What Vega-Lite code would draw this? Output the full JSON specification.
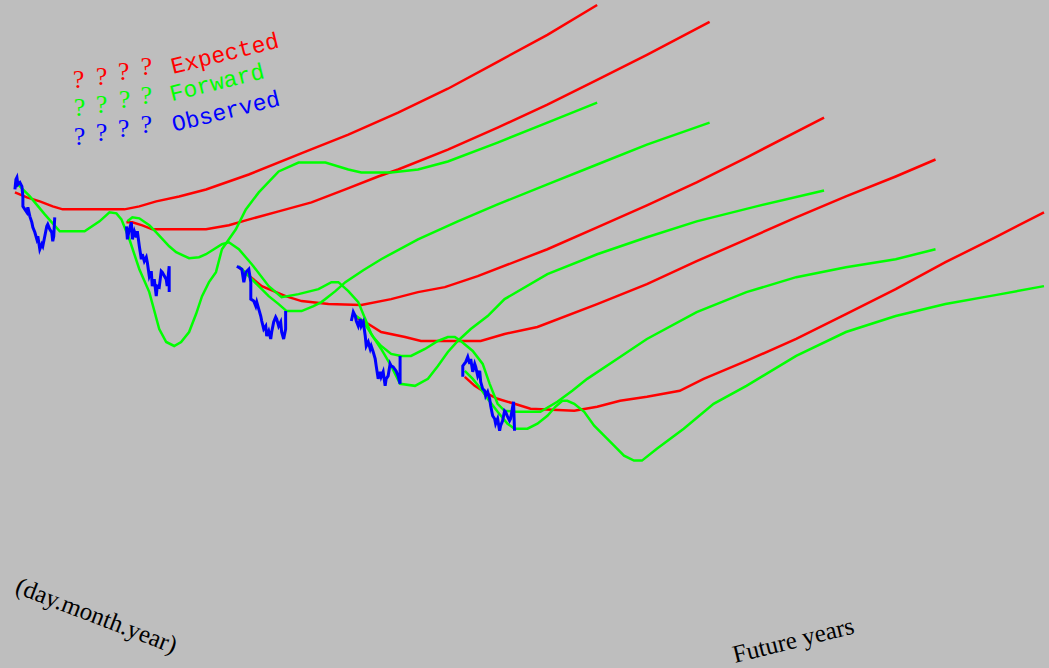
{
"$schema": "https://vega.github.io/schema/vega-lite/v6.json",
"width": 1049, "height": 668, "padding": 0,
"autosize": {"type": "fit", "contains": "padding"},
"background": "#bebebe",
"config": {"view": {"stroke": null}},
"datasets": {
"lines": [
{"s":"Expected","g":1,"x":15,"y":193},{"s":"Expected","g":1,"x":27,"y":198},{"s":"Expected","g":1,"x":40,"y":202},{"s":"Expected","g":1,"x":53,"y":207},{"s":"Expected","g":1,"x":63,"y":210},{"s":"Expected","g":1,"x":125,"y":210},{"s":"Expected","g":1,"x":140,"y":207},{"s":"Expected","g":1,"x":157,"y":202},{"s":"Expected","g":1,"x":180,"y":197},{"s":"Expected","g":1,"x":207,"y":190},{"s":"Expected","g":1,"x":250,"y":175},{"s":"Expected","g":1,"x":307,"y":152},{"s":"Expected","g":1,"x":350,"y":135},{"s":"Expected","g":1,"x":400,"y":113},{"s":"Expected","g":1,"x":450,"y":89},{"s":"Expected","g":1,"x":500,"y":62},{"s":"Expected","g":1,"x":550,"y":35},{"s":"Expected","g":1,"x":600,"y":5},
{"s":"Expected","g":2,"x":127,"y":223},{"s":"Expected","g":2,"x":133,"y":223},{"s":"Expected","g":2,"x":143,"y":226},{"s":"Expected","g":2,"x":153,"y":230},{"s":"Expected","g":2,"x":207,"y":230},{"s":"Expected","g":2,"x":230,"y":226},{"s":"Expected","g":2,"x":247,"y":221},{"s":"Expected","g":2,"x":280,"y":212},{"s":"Expected","g":2,"x":313,"y":203},{"s":"Expected","g":2,"x":347,"y":190},{"s":"Expected","g":2,"x":380,"y":177},{"s":"Expected","g":2,"x":400,"y":170},{"s":"Expected","g":2,"x":450,"y":150},{"s":"Expected","g":2,"x":500,"y":128},{"s":"Expected","g":2,"x":550,"y":105},{"s":"Expected","g":2,"x":600,"y":80},{"s":"Expected","g":2,"x":650,"y":55},{"s":"Expected","g":2,"x":713,"y":22},
{"s":"Expected","g":3,"x":240,"y":268},{"s":"Expected","g":3,"x":252,"y":278},{"s":"Expected","g":3,"x":263,"y":287},{"s":"Expected","g":3,"x":275,"y":292},{"s":"Expected","g":3,"x":287,"y":297},{"s":"Expected","g":3,"x":303,"y":302},{"s":"Expected","g":3,"x":330,"y":305},{"s":"Expected","g":3,"x":363,"y":306},{"s":"Expected","g":3,"x":393,"y":300},{"s":"Expected","g":3,"x":420,"y":293},{"s":"Expected","g":3,"x":447,"y":288},{"s":"Expected","g":3,"x":480,"y":277},{"s":"Expected","g":3,"x":550,"y":250},{"s":"Expected","g":3,"x":600,"y":228},{"s":"Expected","g":3,"x":650,"y":206},{"s":"Expected","g":3,"x":700,"y":183},{"s":"Expected","g":3,"x":750,"y":158},{"s":"Expected","g":3,"x":828,"y":118},
{"s":"Expected","g":4,"x":357,"y":318},{"s":"Expected","g":4,"x":367,"y":323},{"s":"Expected","g":4,"x":383,"y":333},{"s":"Expected","g":4,"x":407,"y":338},{"s":"Expected","g":4,"x":423,"y":342},{"s":"Expected","g":4,"x":483,"y":342},{"s":"Expected","g":4,"x":507,"y":335},{"s":"Expected","g":4,"x":540,"y":328},{"s":"Expected","g":4,"x":600,"y":305},{"s":"Expected","g":4,"x":650,"y":285},{"s":"Expected","g":4,"x":700,"y":262},{"s":"Expected","g":4,"x":750,"y":240},{"s":"Expected","g":4,"x":800,"y":218},{"s":"Expected","g":4,"x":850,"y":197},{"s":"Expected","g":4,"x":900,"y":177},{"s":"Expected","g":4,"x":940,"y":160},
{"s":"Expected","g":5,"x":467,"y":378},{"s":"Expected","g":5,"x":477,"y":387},{"s":"Expected","g":5,"x":490,"y":395},{"s":"Expected","g":5,"x":500,"y":400},{"s":"Expected","g":5,"x":517,"y":405},{"s":"Expected","g":5,"x":533,"y":410},{"s":"Expected","g":5,"x":577,"y":412},{"s":"Expected","g":5,"x":600,"y":408},{"s":"Expected","g":5,"x":623,"y":402},{"s":"Expected","g":5,"x":650,"y":398},{"s":"Expected","g":5,"x":683,"y":392},{"s":"Expected","g":5,"x":707,"y":380},{"s":"Expected","g":5,"x":750,"y":362},{"s":"Expected","g":5,"x":800,"y":340},{"s":"Expected","g":5,"x":850,"y":315},{"s":"Expected","g":5,"x":900,"y":290},{"s":"Expected","g":5,"x":950,"y":263},{"s":"Expected","g":5,"x":1000,"y":238},{"s":"Expected","g":5,"x":1049,"y":213},
{"s":"Forward","g":1,"x":18,"y":185},{"s":"Forward","g":1,"x":30,"y":197},{"s":"Forward","g":1,"x":45,"y":215},{"s":"Forward","g":1,"x":60,"y":232},{"s":"Forward","g":1,"x":85,"y":232},{"s":"Forward","g":1,"x":100,"y":222},{"s":"Forward","g":1,"x":110,"y":213},{"s":"Forward","g":1,"x":117,"y":214},{"s":"Forward","g":1,"x":122,"y":220},{"s":"Forward","g":1,"x":130,"y":240},{"s":"Forward","g":1,"x":140,"y":270},{"s":"Forward","g":1,"x":150,"y":293},{"s":"Forward","g":1,"x":160,"y":330},{"s":"Forward","g":1,"x":167,"y":343},{"s":"Forward","g":1,"x":175,"y":347},{"s":"Forward","g":1,"x":182,"y":343},{"s":"Forward","g":1,"x":190,"y":333},{"s":"Forward","g":1,"x":197,"y":315},{"s":"Forward","g":1,"x":203,"y":297},{"s":"Forward","g":1,"x":210,"y":283},{"s":"Forward","g":1,"x":217,"y":273},{"s":"Forward","g":1,"x":223,"y":250},{"s":"Forward","g":1,"x":237,"y":230},{"s":"Forward","g":1,"x":247,"y":210},{"s":"Forward","g":1,"x":260,"y":193},{"s":"Forward","g":1,"x":280,"y":172},{"s":"Forward","g":1,"x":300,"y":163},{"s":"Forward","g":1,"x":327,"y":163},{"s":"Forward","g":1,"x":350,"y":170},{"s":"Forward","g":1,"x":363,"y":173},{"s":"Forward","g":1,"x":393,"y":173},{"s":"Forward","g":1,"x":420,"y":170},{"s":"Forward","g":1,"x":450,"y":162},{"s":"Forward","g":1,"x":500,"y":143},{"s":"Forward","g":1,"x":550,"y":123},{"s":"Forward","g":1,"x":600,"y":103},
{"s":"Forward","g":2,"x":128,"y":222},{"s":"Forward","g":2,"x":133,"y":218},{"s":"Forward","g":2,"x":140,"y":219},{"s":"Forward","g":2,"x":150,"y":226},{"s":"Forward","g":2,"x":157,"y":233},{"s":"Forward","g":2,"x":170,"y":247},{"s":"Forward","g":2,"x":177,"y":253},{"s":"Forward","g":2,"x":190,"y":259},{"s":"Forward","g":2,"x":200,"y":258},{"s":"Forward","g":2,"x":207,"y":255},{"s":"Forward","g":2,"x":223,"y":245},{"s":"Forward","g":2,"x":230,"y":243},{"s":"Forward","g":2,"x":240,"y":250},{"s":"Forward","g":2,"x":253,"y":265},{"s":"Forward","g":2,"x":270,"y":287},{"s":"Forward","g":2,"x":283,"y":298},{"s":"Forward","g":2,"x":300,"y":295},{"s":"Forward","g":2,"x":320,"y":290},{"s":"Forward","g":2,"x":333,"y":283},{"s":"Forward","g":2,"x":340,"y":283},{"s":"Forward","g":2,"x":350,"y":292},{"s":"Forward","g":2,"x":360,"y":303},{"s":"Forward","g":2,"x":367,"y":320},{"s":"Forward","g":2,"x":373,"y":335},{"s":"Forward","g":2,"x":383,"y":350},{"s":"Forward","g":2,"x":393,"y":367},{"s":"Forward","g":2,"x":402,"y":385},{"s":"Forward","g":2,"x":417,"y":387},{"s":"Forward","g":2,"x":430,"y":380},{"s":"Forward","g":2,"x":440,"y":367},{"s":"Forward","g":2,"x":450,"y":353},{"s":"Forward","g":2,"x":460,"y":342},{"s":"Forward","g":2,"x":473,"y":330},{"s":"Forward","g":2,"x":490,"y":317},{"s":"Forward","g":2,"x":507,"y":300},{"s":"Forward","g":2,"x":550,"y":275},{"s":"Forward","g":2,"x":600,"y":255},{"s":"Forward","g":2,"x":650,"y":238},{"s":"Forward","g":2,"x":700,"y":222},{"s":"Forward","g":2,"x":760,"y":207},{"s":"Forward","g":2,"x":828,"y":191},
{"s":"Forward","g":3,"x":240,"y":267},{"s":"Forward","g":3,"x":250,"y":277},{"s":"Forward","g":3,"x":260,"y":287},{"s":"Forward","g":3,"x":270,"y":297},{"s":"Forward","g":3,"x":280,"y":305},{"s":"Forward","g":3,"x":288,"y":312},{"s":"Forward","g":3,"x":303,"y":312},{"s":"Forward","g":3,"x":315,"y":307},{"s":"Forward","g":3,"x":323,"y":303},{"s":"Forward","g":3,"x":337,"y":292},{"s":"Forward","g":3,"x":347,"y":283},{"s":"Forward","g":3,"x":365,"y":271},{"s":"Forward","g":3,"x":383,"y":260},{"s":"Forward","g":3,"x":420,"y":240},{"s":"Forward","g":3,"x":460,"y":222},{"s":"Forward","g":3,"x":500,"y":205},{"s":"Forward","g":3,"x":550,"y":185},{"s":"Forward","g":3,"x":600,"y":165},{"s":"Forward","g":3,"x":650,"y":145},{"s":"Forward","g":3,"x":713,"y":123},
{"s":"Forward","g":4,"x":355,"y":315},{"s":"Forward","g":4,"x":362,"y":320},{"s":"Forward","g":4,"x":368,"y":327},{"s":"Forward","g":4,"x":375,"y":338},{"s":"Forward","g":4,"x":383,"y":347},{"s":"Forward","g":4,"x":393,"y":355},{"s":"Forward","g":4,"x":403,"y":357},{"s":"Forward","g":4,"x":413,"y":357},{"s":"Forward","g":4,"x":427,"y":350},{"s":"Forward","g":4,"x":440,"y":342},{"s":"Forward","g":4,"x":450,"y":338},{"s":"Forward","g":4,"x":457,"y":338},{"s":"Forward","g":4,"x":463,"y":342},{"s":"Forward","g":4,"x":475,"y":352},{"s":"Forward","g":4,"x":485,"y":365},{"s":"Forward","g":4,"x":492,"y":385},{"s":"Forward","g":4,"x":500,"y":405},{"s":"Forward","g":4,"x":507,"y":412},{"s":"Forward","g":4,"x":517,"y":413},{"s":"Forward","g":4,"x":543,"y":413},{"s":"Forward","g":4,"x":560,"y":403},{"s":"Forward","g":4,"x":575,"y":392},{"s":"Forward","g":4,"x":590,"y":380},{"s":"Forward","g":4,"x":620,"y":360},{"s":"Forward","g":4,"x":650,"y":340},{"s":"Forward","g":4,"x":700,"y":313},{"s":"Forward","g":4,"x":750,"y":293},{"s":"Forward","g":4,"x":800,"y":278},{"s":"Forward","g":4,"x":850,"y":268},{"s":"Forward","g":4,"x":900,"y":260},{"s":"Forward","g":4,"x":940,"y":250},
{"s":"Forward","g":5,"x":467,"y":372},{"s":"Forward","g":5,"x":475,"y":380},{"s":"Forward","g":5,"x":483,"y":390},{"s":"Forward","g":5,"x":490,"y":400},{"s":"Forward","g":5,"x":500,"y":413},{"s":"Forward","g":5,"x":510,"y":425},{"s":"Forward","g":5,"x":517,"y":430},{"s":"Forward","g":5,"x":530,"y":430},{"s":"Forward","g":5,"x":540,"y":425},{"s":"Forward","g":5,"x":550,"y":417},{"s":"Forward","g":5,"x":558,"y":408},{"s":"Forward","g":5,"x":565,"y":402},{"s":"Forward","g":5,"x":570,"y":402},{"s":"Forward","g":5,"x":577,"y":405},{"s":"Forward","g":5,"x":587,"y":413},{"s":"Forward","g":5,"x":597,"y":427},{"s":"Forward","g":5,"x":607,"y":437},{"s":"Forward","g":5,"x":617,"y":447},{"s":"Forward","g":5,"x":627,"y":457},{"s":"Forward","g":5,"x":637,"y":462},{"s":"Forward","g":5,"x":645,"y":462},{"s":"Forward","g":5,"x":660,"y":450},{"s":"Forward","g":5,"x":687,"y":430},{"s":"Forward","g":5,"x":717,"y":405},{"s":"Forward","g":5,"x":750,"y":387},{"s":"Forward","g":5,"x":800,"y":357},{"s":"Forward","g":5,"x":850,"y":333},{"s":"Forward","g":5,"x":900,"y":317},{"s":"Forward","g":5,"x":950,"y":305},{"s":"Forward","g":5,"x":1000,"y":296},{"s":"Forward","g":5,"x":1049,"y":287},
{"s":"Observed","g":1,"x":15,"y":190},{"s":"Observed","g":1,"x":16,"y":180},{"s":"Observed","g":1,"x":17,"y":178},{"s":"Observed","g":1,"x":18,"y":185},{"s":"Observed","g":1,"x":20,"y":183},{"s":"Observed","g":1,"x":22,"y":187},{"s":"Observed","g":1,"x":23,"y":197},{"s":"Observed","g":1,"x":23,"y":207},{"s":"Observed","g":1,"x":25,"y":210},{"s":"Observed","g":1,"x":27,"y":213},{"s":"Observed","g":1,"x":28,"y":208},{"s":"Observed","g":1,"x":30,"y":217},{"s":"Observed","g":1,"x":32,"y":223},{"s":"Observed","g":1,"x":33,"y":228},{"s":"Observed","g":1,"x":35,"y":233},{"s":"Observed","g":1,"x":37,"y":240},{"s":"Observed","g":1,"x":38,"y":237},{"s":"Observed","g":1,"x":40,"y":250},{"s":"Observed","g":1,"x":42,"y":245},{"s":"Observed","g":1,"x":43,"y":247},{"s":"Observed","g":1,"x":45,"y":237},{"s":"Observed","g":1,"x":47,"y":227},{"s":"Observed","g":1,"x":48,"y":225},{"s":"Observed","g":1,"x":50,"y":230},{"s":"Observed","g":1,"x":52,"y":233},{"s":"Observed","g":1,"x":53,"y":242},{"s":"Observed","g":1,"x":54,"y":237},{"s":"Observed","g":1,"x":55,"y":218},
{"s":"Observed","g":2,"x":127,"y":227},{"s":"Observed","g":2,"x":128,"y":240},{"s":"Observed","g":2,"x":130,"y":230},{"s":"Observed","g":2,"x":132,"y":223},{"s":"Observed","g":2,"x":133,"y":240},{"s":"Observed","g":2,"x":135,"y":232},{"s":"Observed","g":2,"x":137,"y":238},{"s":"Observed","g":2,"x":138,"y":232},{"s":"Observed","g":2,"x":140,"y":247},{"s":"Observed","g":2,"x":142,"y":260},{"s":"Observed","g":2,"x":143,"y":255},{"s":"Observed","g":2,"x":145,"y":262},{"s":"Observed","g":2,"x":147,"y":258},{"s":"Observed","g":2,"x":148,"y":263},{"s":"Observed","g":2,"x":150,"y":277},{"s":"Observed","g":2,"x":152,"y":272},{"s":"Observed","g":2,"x":153,"y":287},{"s":"Observed","g":2,"x":155,"y":280},{"s":"Observed","g":2,"x":157,"y":297},{"s":"Observed","g":2,"x":158,"y":287},{"s":"Observed","g":2,"x":160,"y":288},{"s":"Observed","g":2,"x":162,"y":272},{"s":"Observed","g":2,"x":163,"y":273},{"s":"Observed","g":2,"x":167,"y":280},{"s":"Observed","g":2,"x":168,"y":287},{"s":"Observed","g":2,"x":170,"y":267},{"s":"Observed","g":2,"x":170,"y":293},
{"s":"Observed","g":3,"x":238,"y":267},{"s":"Observed","g":3,"x":243,"y":270},{"s":"Observed","g":3,"x":245,"y":283},{"s":"Observed","g":3,"x":247,"y":273},{"s":"Observed","g":3,"x":250,"y":270},{"s":"Observed","g":3,"x":252,"y":283},{"s":"Observed","g":3,"x":252,"y":300},{"s":"Observed","g":3,"x":255,"y":302},{"s":"Observed","g":3,"x":257,"y":307},{"s":"Observed","g":3,"x":258,"y":303},{"s":"Observed","g":3,"x":260,"y":310},{"s":"Observed","g":3,"x":262,"y":317},{"s":"Observed","g":3,"x":263,"y":322},{"s":"Observed","g":3,"x":265,"y":330},{"s":"Observed","g":3,"x":267,"y":327},{"s":"Observed","g":3,"x":268,"y":337},{"s":"Observed","g":3,"x":270,"y":332},{"s":"Observed","g":3,"x":272,"y":340},{"s":"Observed","g":3,"x":273,"y":333},{"s":"Observed","g":3,"x":275,"y":323},{"s":"Observed","g":3,"x":277,"y":318},{"s":"Observed","g":3,"x":278,"y":320},{"s":"Observed","g":3,"x":280,"y":327},{"s":"Observed","g":3,"x":282,"y":323},{"s":"Observed","g":3,"x":283,"y":333},{"s":"Observed","g":3,"x":285,"y":340},{"s":"Observed","g":3,"x":287,"y":330},{"s":"Observed","g":3,"x":287,"y":312},
{"s":"Observed","g":4,"x":353,"y":322},{"s":"Observed","g":4,"x":355,"y":313},{"s":"Observed","g":4,"x":357,"y":317},{"s":"Observed","g":4,"x":358,"y":322},{"s":"Observed","g":4,"x":360,"y":327},{"s":"Observed","g":4,"x":362,"y":320},{"s":"Observed","g":4,"x":363,"y":327},{"s":"Observed","g":4,"x":365,"y":323},{"s":"Observed","g":4,"x":367,"y":337},{"s":"Observed","g":4,"x":368,"y":347},{"s":"Observed","g":4,"x":370,"y":343},{"s":"Observed","g":4,"x":372,"y":350},{"s":"Observed","g":4,"x":373,"y":347},{"s":"Observed","g":4,"x":375,"y":353},{"s":"Observed","g":4,"x":377,"y":360},{"s":"Observed","g":4,"x":378,"y":367},{"s":"Observed","g":4,"x":380,"y":380},{"s":"Observed","g":4,"x":382,"y":373},{"s":"Observed","g":4,"x":383,"y":378},{"s":"Observed","g":4,"x":385,"y":373},{"s":"Observed","g":4,"x":387,"y":387},{"s":"Observed","g":4,"x":388,"y":380},{"s":"Observed","g":4,"x":390,"y":377},{"s":"Observed","g":4,"x":392,"y":365},{"s":"Observed","g":4,"x":393,"y":367},{"s":"Observed","g":4,"x":395,"y":368},{"s":"Observed","g":4,"x":398,"y":372},{"s":"Observed","g":4,"x":400,"y":377},{"s":"Observed","g":4,"x":402,"y":385},{"s":"Observed","g":4,"x":402,"y":357},
{"s":"Observed","g":5,"x":465,"y":378},{"s":"Observed","g":5,"x":465,"y":367},{"s":"Observed","g":5,"x":468,"y":363},{"s":"Observed","g":5,"x":470,"y":358},{"s":"Observed","g":5,"x":472,"y":365},{"s":"Observed","g":5,"x":473,"y":360},{"s":"Observed","g":5,"x":475,"y":373},{"s":"Observed","g":5,"x":477,"y":365},{"s":"Observed","g":5,"x":478,"y":368},{"s":"Observed","g":5,"x":480,"y":377},{"s":"Observed","g":5,"x":482,"y":372},{"s":"Observed","g":5,"x":483,"y":383},{"s":"Observed","g":5,"x":485,"y":390},{"s":"Observed","g":5,"x":487,"y":392},{"s":"Observed","g":5,"x":488,"y":397},{"s":"Observed","g":5,"x":490,"y":393},{"s":"Observed","g":5,"x":492,"y":400},{"s":"Observed","g":5,"x":493,"y":407},{"s":"Observed","g":5,"x":495,"y":417},{"s":"Observed","g":5,"x":497,"y":420},{"s":"Observed","g":5,"x":498,"y":425},{"s":"Observed","g":5,"x":500,"y":420},{"s":"Observed","g":5,"x":502,"y":432},{"s":"Observed","g":5,"x":503,"y":427},{"s":"Observed","g":5,"x":505,"y":422},{"s":"Observed","g":5,"x":507,"y":412},{"s":"Observed","g":5,"x":508,"y":413},{"s":"Observed","g":5,"x":510,"y":418},{"s":"Observed","g":5,"x":512,"y":422},{"s":"Observed","g":5,"x":513,"y":420},{"s":"Observed","g":5,"x":516,"y":403},{"s":"Observed","g":5,"x":517,"y":432}
],
"marks": [
{"s":"Expected","x":79,"y":80,"t":"?"},{"s":"Expected","x":102,"y":77,"t":"?"},{"s":"Expected","x":124,"y":72,"t":"?"},{"s":"Expected","x":147,"y":67,"t":"?"},
{"s":"Forward","x":80,"y":108,"t":"?"},{"s":"Forward","x":102,"y":105,"t":"?"},{"s":"Forward","x":125,"y":100,"t":"?"},{"s":"Forward","x":147,"y":96,"t":"?"},
{"s":"Observed","x":80,"y":137,"t":"?"},{"s":"Observed","x":102,"y":133,"t":"?"},{"s":"Observed","x":124,"y":129,"t":"?"},{"s":"Observed","x":147,"y":125,"t":"?"}
],
"names": [
{"s":"Expected","x":226,"y":54,"t":"Expected"},
{"s":"Forward","x":218,"y":83,"t":"Forward"},
{"s":"Observed","x":227,"y":112,"t":"Observed"}
],
"axes": [
{"x":94,"y":625,"t":"(day.month.year)","a":"date"},
{"x":799,"y":650,"t":"Future years","a":"future"}
]
},
"layer": [
{
"data": {"name": "lines"},
"transform": [{"window": [{"op": "row_number", "as": "i"}]}, {"filter": "datum.s !== 'Observed'"}],
"mark": {"type": "line", "strokeWidth": 2.5},
"encoding": {
"x": {"field": "x", "type": "quantitative", "scale": {"domain": [0, 1049], "nice": false, "zero": false}, "axis": null},
"y": {"field": "y", "type": "quantitative", "scale": {"domain": [0, 668], "nice": false, "zero": false, "reverse": true}, "axis": null},
"color": {"field": "s", "type": "nominal", "scale": {"domain": ["Expected", "Forward", "Observed"], "range": ["#ff0000", "#00ff00", "#0000ff"]}, "legend": null},
"detail": {"field": "g", "type": "nominal"},
"order": {"field": "i", "type": "quantitative"}
}
},
{
"data": {"name": "lines"},
"transform": [{"window": [{"op": "row_number", "as": "i"}]}, {"filter": "datum.s === 'Observed'"}],
"mark": {"type": "line", "strokeWidth": 3},
"encoding": {
"x": {"field": "x", "type": "quantitative"},
"y": {"field": "y", "type": "quantitative"},
"color": {"field": "s", "type": "nominal"},
"detail": {"field": "g", "type": "nominal"},
"order": {"field": "i", "type": "quantitative"}
}
},
{
"data": {"name": "marks"},
"mark": {"type": "text", "font": "Liberation Serif", "fontSize": 26, "align": "center", "baseline": "middle"},
"encoding": {
"x": {"field": "x", "type": "quantitative"},
"y": {"field": "y", "type": "quantitative"},
"color": {"field": "s", "type": "nominal"},
"text": {"field": "t"}
}
},
{
"data": {"name": "names"},
"mark": {"type": "text", "font": "Liberation Mono", "fontSize": 23, "align": "center", "baseline": "middle", "angle": -14},
"encoding": {
"x": {"field": "x", "type": "quantitative"},
"y": {"field": "y", "type": "quantitative"},
"color": {"field": "s", "type": "nominal"},
"text": {"field": "t"}
}
},
{
"data": {"name": "axes"},
"transform": [{"filter": "datum.a === 'date'"}],
"mark": {"type": "text", "font": "Liberation Serif", "fontSize": 25, "align": "center", "baseline": "alphabetic", "angle": 21, "color": "#000000"},
"encoding": {
"x": {"field": "x", "type": "quantitative"},
"y": {"field": "y", "type": "quantitative"},
"text": {"field": "t"}
}
},
{
"data": {"name": "axes"},
"transform": [{"filter": "datum.a === 'future'"}],
"mark": {"type": "text", "font": "Liberation Serif", "fontSize": 25, "align": "center", "baseline": "alphabetic", "angle": -14, "color": "#000000"},
"encoding": {
"x": {"field": "x", "type": "quantitative"},
"y": {"field": "y", "type": "quantitative"},
"text": {"field": "t"}
}
}
]
}
